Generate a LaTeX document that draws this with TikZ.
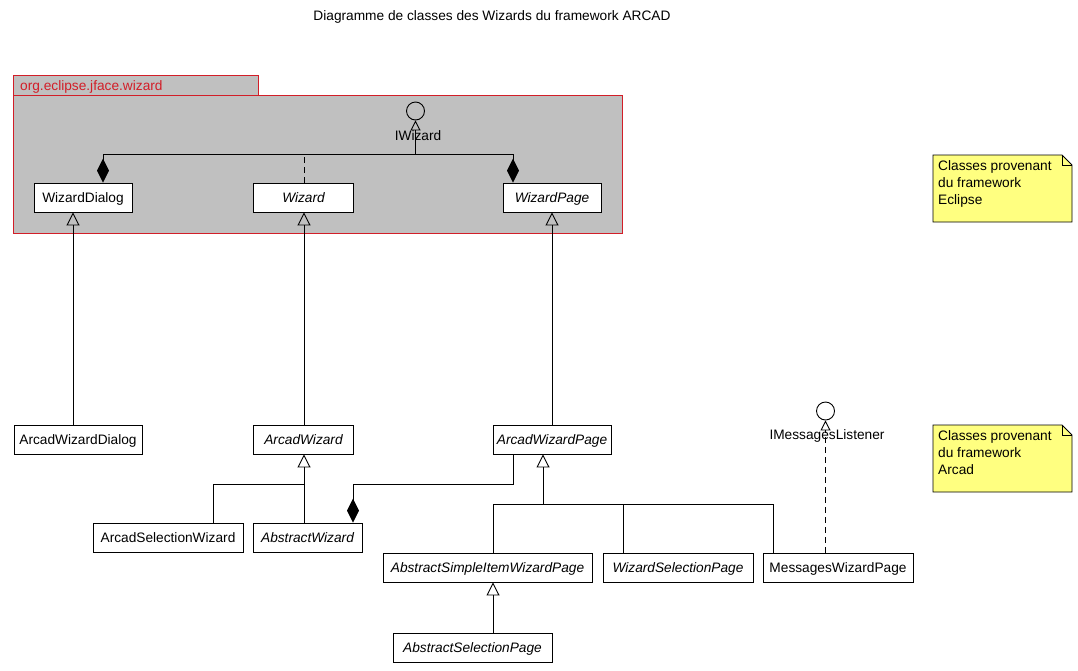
\documentclass[tikz,border=0pt]{standalone}
\usepackage{fontspec}
\setmainfont{Liberation Sans}
\usetikzlibrary{arrows.meta,calc}
\definecolor{pkgred}{RGB}{210,30,40}
\definecolor{pkggray}{RGB}{192,192,192}
\definecolor{noteyellow}{RGB}{255,255,128}
\newcommand{\fsz}{\fontsize{13.7}{17}\selectfont}
\begin{document}
\begin{tikzpicture}[x=1pt,y=-1pt,
  cls/.style={draw, fill=white, line width=0.9pt, minimum height=29pt, inner sep=0pt, text height=10pt, text depth=0pt, font=\fsz},
  abs/.style={cls, font=\fsz\itshape},
  conn/.style={line width=0.9pt},
  gen/.style={conn, -{Triangle[open,length=13pt,width=13pt]}},
  real/.style={conn, -{Triangle[open,length=10pt,width=10pt]}},
  comp/.style={conn, {Diamond[length=24pt,width=12pt]}-},
  lbl/.style={font=\fsz, inner sep=0pt},
  iface/.style={circle, draw, line width=0.9pt, minimum size=18pt, inner sep=0pt},
  note/.style={draw, fill=noteyellow, line width=0.9pt}
]
\useasboundingbox (0,0) rectangle (1078,670);
% title
\node[lbl] (title) at (492,17) {Diagramme de classes des Wizards du framework ARCAD};
% package
\draw[pkgred, fill=pkggray, line width=0.9pt] (13,75) rectangle (258,95);
\draw[pkgred, fill=pkggray, line width=0.9pt] (13,95) rectangle (622,233);
\node[lbl, text=pkgred, anchor=west] (pkgname) at (20,87) {org.eclipse.jface.wizard};
% column coordinates
\coordinate (c73) at (73,0);
\coordinate (c103) at (103,0);
\coordinate (c304) at (304,0);
\coordinate (c513) at (513,0);
\coordinate (c213) at (213,0);
\coordinate (c353) at (353,0);
\coordinate (c543) at (543,0);
\coordinate (c493) at (493,0);
\coordinate (c623) at (623,0);
\coordinate (c773) at (773,0);
% package classes
\node[iface] (iw) at (415.5,111) {};
\node[lbl] (iwl) at (418,136) {IWizard};
\node[cls, minimum width=98pt] (wd) at (83,197.5) {WizardDialog};
\node[abs, minimum width=100pt] (wz) at (303.5,197.5) {Wizard};
\node[abs, minimum width=98pt] (wp) at (552,197.5) {WizardPage};
\coordinate (h1) at (103,154);
\coordinate (h2) at (513,154);
\draw[conn] (h1) -- (h2);
\draw[real] (h1 -| iw.south) -- (iw.south);
\draw[comp] (wd.north -| c103) -- (h1);
\draw[comp] (wp.north -| c513) -- (h2);
\draw[conn, dashed, dash pattern=on 6pt off 4pt] (wz.north -| c304) -- (h1 -| c304);
% Arcad classes
\node[cls, minimum width=128pt] (awd) at (78,439.5) {ArcadWizardDialog};
\node[abs, minimum width=100pt] (aw) at (303.5,439.5) {ArcadWizard};
\node[abs, minimum width=118pt] (awp) at (552,439.5) {ArcadWizardPage};
\node[cls, minimum width=150pt] (asw) at (168,537.5) {ArcadSelectionWizard};
\node[abs, minimum width=109pt] (abw) at (307.5,537.5) {AbstractWizard};
\node[abs, minimum width=209pt] (asiwp) at (487.5,567.5) {AbstractSimpleItemWizardPage};
\node[abs, minimum width=150pt] (wsp) at (678,567.5) {WizardSelectionPage};
\node[cls, minimum width=150pt] (mwp) at (838,567.5) {MessagesWizardPage};
\node[abs, minimum width=159pt] (asp) at (472.5,647.5) {AbstractSelectionPage};
\node[iface, fill=white] (iml) at (825.5,411) {};
\node[lbl] (imll) at (827,436) {IMessagesListener};
% generalizations
\draw[gen] (awd.north -| c73) -- (wd.south -| c73);
\draw[gen] (aw.north -| c304) -- (wz.south -| c304);
\draw[gen] (awp.north) -- (wp.south);
\coordinate (j1) at (304,484);
\draw[gen] (abw.north -| c304) -- (aw.south -| c304);
\draw[conn] (asw.north -| c213) |- (j1);
\coordinate (j2) at (543,504);
\draw[gen] (j2) -- (awp.south -| c543);
\draw[conn] (asiwp.north -| c493) |- (j2);
\draw[conn] (mwp.north -| c773) |- (j2);
\draw[conn] (wsp.north -| c623) -- (j2 -| c623);
\draw[gen] (asp.north -| c493) -- (asiwp.south -| c493);
% composition ArcadWizardPage - AbstractWizard
\coordinate (k1) at (353,484);
\coordinate (k2) at (513,484);
\draw[comp] (abw.north -| c353) -- (k1) -- (k2) -- (awp.south -| c513);
% realization of IMessagesListener
\draw[real, dashed, dash pattern=on 6pt off 4pt] (mwp.north -| iml.south) -- (iml.south);
% notes
\draw[note] (933,155) -- (1062,155) -- (1072,165) -- (1072,222) -- (933,222) -- cycle;
\draw[line width=0.9pt] (1062,155) -- (1062,165) -- (1072,165);
\node[lbl, anchor=north west, align=left] (n1) at (938,160) {Classes provenant\\du framework\\Eclipse};
\draw[note] (933,425) -- (1062,425) -- (1072,435) -- (1072,492) -- (933,492) -- cycle;
\draw[line width=0.9pt] (1062,425) -- (1062,435) -- (1072,435);
\node[lbl, anchor=north west, align=left] (n2) at (938,430) {Classes provenant\\du framework\\Arcad};
\end{tikzpicture}
\end{document}
